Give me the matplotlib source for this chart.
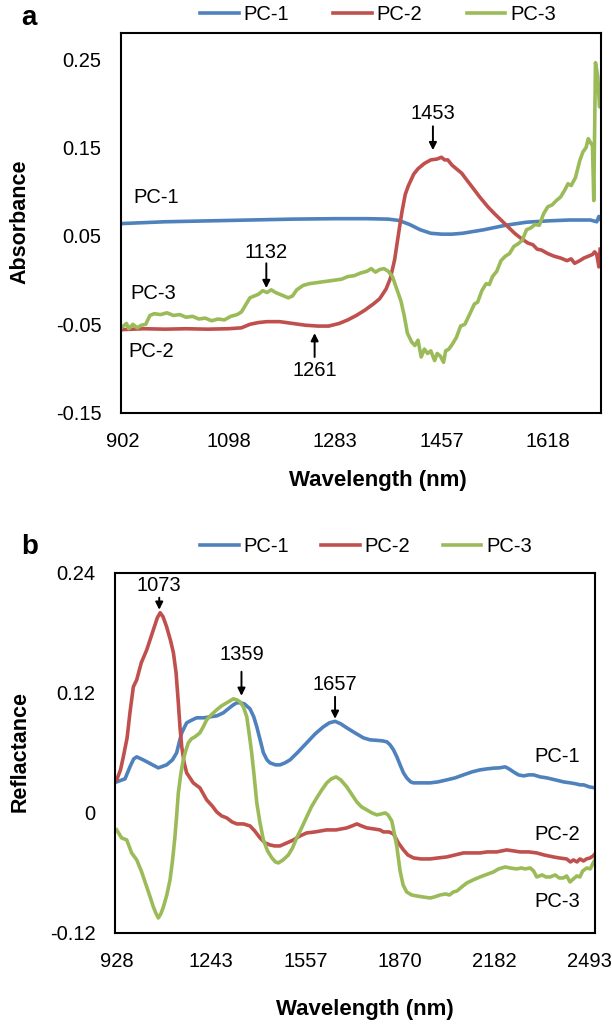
import matplotlib
matplotlib.use("Agg")
import matplotlib.pyplot as plt

plt.rcParams['font.family'] = ['Liberation Sans', 'DejaVu Sans']

# ---------------- Panel a data (index positions of the spectrometer channels) ----------------
a_tick_pos = [0, 50, 100, 150, 200]
a_tick_labels = ['902', '1098', '1283', '1457', '1618']
a_yticks = [0.25, 0.15, 0.05, -0.05, -0.15]

a_pc1_idx = [0, 10, 20, 40, 60, 80, 100, 115, 125, 130, 135, 140, 145, 150, 155, 160, 170, 180,
             190, 200, 210, 220, 223, 224, 225]
a_pc1 = [0.064, 0.065, 0.066, 0.067, 0.068, 0.069, 0.0695, 0.0695, 0.069, 0.0675, 0.063, 0.057,
         0.053, 0.052, 0.052, 0.053, 0.057, 0.062, 0.0655, 0.067, 0.068, 0.068, 0.066, 0.072, 0.068]

a_pc2_idx = [0, 10, 20, 30, 40, 50, 56, 60, 64, 68, 74, 80, 86, 92, 97, 102, 106, 110, 114, 118,
             121, 124, 126, 128, 130, 131.5, 133, 134.5, 137, 139, 142, 145, 148, 150, 151.5, 153,
             155, 157, 159.5, 162, 165.5, 168, 171.8, 175, 178, 181, 184.4, 187, 190.6, 193, 195,
             197, 200, 203, 206, 209, 211, 212.6, 215, 217, 219, 221, 222, 223, 224, 224.6]
a_pc2 = [-0.056, -0.055, -0.0555, -0.055, -0.0555, -0.055, -0.054, -0.050, -0.048, -0.047, -0.047,
         -0.049, -0.051, -0.052, -0.052, -0.049, -0.045, -0.040, -0.034, -0.027, -0.021, -0.010,
         0.002, 0.023, 0.055, 0.078, 0.097, 0.107, 0.120, 0.126, 0.132, 0.136, 0.137, 0.139, 0.136,
         0.136, 0.130, 0.126, 0.121, 0.113, 0.102, 0.094, 0.083, 0.075, 0.068, 0.061, 0.053, 0.048,
         0.042, 0.040, 0.035, 0.034, 0.030, 0.027, 0.025, 0.022, 0.024, 0.019, 0.022, 0.025, 0.027,
         0.029, 0.032, 0.029, 0.015, 0.035]

a_pc3_idx = [0, 2, 3, 5, 7, 9, 11, 13, 15, 18, 21, 24, 27, 30, 33, 36, 39, 42, 45, 48, 51, 54, 56,
             58, 60, 62, 64, 66, 68, 70, 72, 75, 78, 80, 82, 85, 88, 91, 94, 97, 100, 103, 106, 109,
             112, 115, 117, 119, 121, 123, 125, 127, 129, 131, 132.5, 134, 136, 137.5, 139, 140.5,
             142, 143.5, 145, 146.8, 148, 149.5, 151, 152, 153.5, 155, 157, 159, 161, 163, 165.5,
             167, 169, 171, 172.5, 174, 176, 178, 180, 182, 184, 186, 188, 190, 192, 194, 196, 198,
             200, 202, 204, 206, 208, 209.5, 211, 213, 215, 216.5, 218, 219, 220, 221, 221.6, 222.4,
             223.5, 224.3, 225]
a_pc3 = [-0.053, -0.049, -0.055, -0.050, -0.054, -0.051, -0.050, -0.040, -0.038, -0.039, -0.037,
         -0.040, -0.039, -0.042, -0.041, -0.044, -0.043, -0.046, -0.044, -0.045, -0.041, -0.039,
         -0.036, -0.028, -0.020, -0.018, -0.016, -0.012, -0.014, -0.011, -0.014, -0.017, -0.020,
         -0.018, -0.011, -0.006, -0.004, -0.003, -0.002, -0.001, 0.000, 0.001, 0.004, 0.005, 0.008,
         0.010, 0.013, 0.009, 0.012, 0.013, 0.010, 0.004, -0.010, -0.024, -0.040, -0.060, -0.070,
         -0.074, -0.068, -0.087, -0.078, -0.083, -0.080, -0.091, -0.083, -0.086, -0.093, -0.080,
         -0.078, -0.073, -0.065, -0.052, -0.050, -0.040, -0.027, -0.025, -0.012, -0.004, -0.005,
         0.004, 0.010, 0.022, 0.027, 0.030, 0.038, 0.041, 0.045, 0.057, 0.059, 0.063, 0.062, 0.075,
         0.083, 0.085, 0.090, 0.094, 0.102, 0.109, 0.107, 0.116, 0.135, 0.145, 0.150, 0.160, 0.156,
         0.152, 0.090, 0.246, 0.230, 0.196, 0.198]

# ---------------- Panel b data ----------------
b_tick_pos = [0, 50, 100, 150, 200, 250]
b_tick_labels = ['928', '1243', '1557', '1870', '2182', '2493']
b_yticks = [0.24, 0.12, 0.0, -0.12]
b_ytick_labels = ['0.24', '0.12', '0', '-0.12']

b_pc1_idx = [0, 4.4, 7, 9, 10.6, 14, 18, 22, 26.4, 29.5, 31.7, 33, 34.4, 37, 40, 42.3, 46, 49.4, 53,
             56.4, 59, 61.7, 63.5, 65.2, 67.5, 70.5, 72.5, 74.1, 76, 77.6, 79.5, 81.1, 84, 86.4, 89,
             91.7, 96, 100.5, 105, 109.3, 112.5, 115.5, 118.5, 121.7, 126, 130.5, 134, 137.6, 140.5,
             142.9, 144.6, 146.4, 148.2, 149.9, 151.7, 153.4, 155.5, 157, 161, 165.8, 170, 174.6,
             179, 183.4, 188, 192.2, 196, 199.3, 202.5, 205.5, 207.5, 209.9, 212.5, 215.2, 218,
             220.5, 224, 227.5, 232, 236.3, 240, 243, 245.1, 247, 250, 253]
b_pc1 = [0.031, 0.034, 0.046, 0.054, 0.056, 0.053, 0.049, 0.045, 0.048, 0.053, 0.060, 0.070, 0.080,
         0.090, 0.093, 0.095, 0.095, 0.096, 0.097, 0.100, 0.104, 0.108, 0.110, 0.110, 0.109, 0.104,
         0.096, 0.086, 0.072, 0.060, 0.053, 0.050, 0.048, 0.048, 0.050, 0.053, 0.061, 0.070, 0.079,
         0.086, 0.090, 0.0915, 0.089, 0.085, 0.080, 0.075, 0.073, 0.0725, 0.072, 0.071, 0.068,
         0.063, 0.056, 0.048, 0.040, 0.035, 0.031, 0.030, 0.030, 0.030, 0.031, 0.033, 0.035, 0.038,
         0.041, 0.043, 0.044, 0.0447, 0.045, 0.046, 0.044, 0.041, 0.038, 0.037, 0.038, 0.038,
         0.036, 0.035, 0.033, 0.031, 0.030, 0.029, 0.028, 0.028, 0.026, 0.025]

b_pc2_idx = [0, 2, 3.5, 5.5, 7, 8.8, 10.6, 13, 15.9, 19.4, 21.5, 23, 24.5, 26.4, 28.5, 30, 31.4,
             32.6, 33.5, 34.4, 35.7, 37, 40.5, 44, 47.6, 50.5, 52.9, 55.5, 58.2, 61, 63.5, 67, 70.5,
             73, 75.8, 78.5, 81.1, 83.5, 86.4, 90, 93.5, 97, 100.5, 105, 111, 116, 121.7, 124.5, 127,
             129.5, 132.3, 136, 139.3, 141, 144, 146.4, 149, 151.7, 154, 157, 161, 165.8, 170, 174.6,
             179, 183.4, 188, 192.2, 196, 201, 206.3, 210, 213.4, 218, 222.2, 226, 231, 234, 238,
             240, 241.6, 243.5, 245, 246.9, 248.5, 250.4, 252, 253]
b_pc2 = [0.033, 0.043, 0.056, 0.075, 0.100, 0.126, 0.133, 0.150, 0.163, 0.183, 0.195, 0.200, 0.196,
         0.186, 0.172, 0.160, 0.140, 0.110, 0.085, 0.066, 0.050, 0.040, 0.030, 0.025, 0.013, 0.007,
         0.001, -0.003, -0.005, -0.009, -0.011, -0.011, -0.013, -0.018, -0.025, -0.030, -0.032,
         -0.033, -0.033, -0.030, -0.027, -0.023, -0.020, -0.019, -0.017, -0.017, -0.015, -0.013,
         -0.011, -0.013, -0.015, -0.016, -0.017, -0.019, -0.019, -0.021, -0.030, -0.037, -0.042,
         -0.045, -0.046, -0.046, -0.045, -0.044, -0.042, -0.040, -0.040, -0.040, -0.039, -0.039,
         -0.037, -0.038, -0.039, -0.039, -0.040, -0.042, -0.044, -0.045, -0.046, -0.049, -0.047,
         -0.049, -0.046, -0.048, -0.046, -0.045, -0.043, -0.041]

b_pc3_idx = [0, 2.6, 5.3, 6.5, 7.9, 10.6, 13, 15.9, 17.5, 19.4, 20.7, 22, 23.3, 24.7, 26.5, 28.2,
             29.5, 30.8, 31.7, 32.6, 34, 35.2, 36.5, 37.9, 39.5, 41.4, 44, 45.5, 47.6, 50, 52.9, 55.5,
             58.2, 60, 61.7, 63.5, 65.2, 67, 68.8, 70, 71.4, 72.8, 74.1, 75.8, 77.6, 79.8, 82.1, 84,
             85.5, 88, 90.8, 93, 95.2, 97.8, 100.5, 103, 105.8, 108.5, 111.1, 113.5, 116, 118.5,
             121.7, 124.5, 127, 129.5, 132.3, 135, 137.6, 140, 142, 143.5, 145.5, 146.8, 148.2,
             149.9, 151.5, 153.4, 156, 158.7, 162, 165.8, 168, 171.1, 174, 176, 178.1, 180, 182.5,
             185.2, 188.5, 192.2, 195, 199.3, 202, 205.5, 208, 211.6, 214, 216, 218.7, 220.5, 222.2,
             225, 227, 229.3, 232, 234, 236.3, 238, 239.8, 241.5, 243.4, 245, 246.5, 248.7, 250.5,
             252, 253]
b_pc3 = [-0.017, -0.025, -0.027, -0.033, -0.040, -0.047, -0.058, -0.074, -0.083, -0.094, -0.100,
         -0.105, -0.101, -0.094, -0.082, -0.067, -0.048, -0.024, -0.003, 0.020, 0.040, 0.053, 0.062,
         0.070, 0.074, 0.076, 0.080, 0.085, 0.093, 0.098, 0.103, 0.107, 0.110, 0.112, 0.114, 0.113,
         0.111, 0.106, 0.096, 0.080, 0.060, 0.035, 0.010, -0.010, -0.027, -0.038, -0.045, -0.049,
         -0.050, -0.047, -0.042, -0.035, -0.025, -0.015, -0.004, 0.006, 0.015, 0.023, 0.030, 0.034,
         0.036, 0.033, 0.026, 0.018, 0.011, 0.006, 0.003, 0.000, -0.002, -0.001, 0.000, -0.002,
         -0.008, -0.020, -0.034, -0.058, -0.072, -0.079, -0.082, -0.083, -0.084, -0.085, -0.084,
         -0.082, -0.081, -0.082, -0.079, -0.078, -0.074, -0.070, -0.067, -0.064, -0.062, -0.059,
         -0.056, -0.054, -0.055, -0.056, -0.055, -0.056, -0.055, -0.058, -0.064, -0.062, -0.064,
         -0.064, -0.062, -0.065, -0.065, -0.063, -0.069, -0.066, -0.063, -0.064, -0.058, -0.055,
         -0.056, -0.050, -0.047]

series_names = ['PC-1', 'PC-2', 'PC-3']
colors = ['#4F81BD', '#C0504D', '#9BBB59']

W, H = 612, 1027
fig = plt.figure(figsize=(W / 100, H / 100), dpi=100)

def px_axes(x0, y0, x1, y1):
    return fig.add_axes([x0 / W, 1 - y1 / H, (x1 - x0) / W, (y1 - y0) / H])

FS = 14.5
LW = 2.6

def style(ax):
    for s in ax.spines.values():
        s.set_linewidth(1.5)
        s.set_color('black')
    ax.tick_params(length=0, labelsize=FS, pad=14)

def arrow(ax, label, x, y_text, y_tail, y_head):
    ax.annotate('', xy=(x, y_head), xytext=(x, y_tail),
                arrowprops=dict(arrowstyle='-|>', color='black', lw=1.4, mutation_scale=11,
                                shrinkA=0, shrinkB=0))
    ax.text(x, y_text, label, ha='center', va='center', fontsize=FS)

# ---------------- Panel a ----------------
ax1 = px_axes(121, 33.5, 601, 412.7)
la = []
for idx, vals, c, n in zip([a_pc1_idx, a_pc2_idx, a_pc3_idx], [a_pc1, a_pc2, a_pc3], colors, series_names):
    l, = ax1.plot(idx, vals, color=c, lw=LW, label=n, solid_joinstyle='round')
    la.append(l)
ax1.set_xlim(-0.6, 225)
ax1.set_ylim(-0.15, 0.279)
ax1.set_xticks(a_tick_pos)
ax1.set_xticklabels(a_tick_labels)
ax1.set_yticks(a_yticks)
ax1.set_yticklabels(['%.2f' % v for v in a_yticks])
style(ax1)
ax1.text(5, 0.093, 'PC-1', fontsize=FS, ha='left', va='center')
ax1.text(4, -0.015, 'PC-3', fontsize=FS, ha='left', va='center')
ax1.text(3, -0.081, 'PC-2', fontsize=FS, ha='left', va='center')
arrow(ax1, '1132', 67.7, 0.031, 0.019, -0.009)
arrow(ax1, '1261', 90.4, -0.102, -0.087, -0.060)
arrow(ax1, '1453', 146, 0.189, 0.174, 0.147)

fig.legend(handles=la, loc='center', bbox_to_anchor=(378 / W, 1 - 15 / H), ncol=3, frameon=False,
           fontsize=FS, handlelength=1.9, handletextpad=0.25, columnspacing=2.2,
           borderaxespad=0, borderpad=0)
fig.text(29 / W, 1 - 18 / H, 'a', fontsize=20, fontweight='bold', ha='center', va='center')
fig.text(20 / W, 1 - 222 / H, 'Absorbance', fontsize=15.5, fontweight='bold', rotation=90,
         ha='center', va='center')
fig.text(378 / W, 1 - 480 / H, 'Wavelength (nm)', fontsize=16, fontweight='bold',
         ha='center', va='center')

# ---------------- Panel b ----------------
ax2 = px_axes(115, 572.7, 595, 933)
lb = []
for idx, vals, c, n in zip([b_pc1_idx, b_pc2_idx, b_pc3_idx], [b_pc1, b_pc2, b_pc3], colors, series_names):
    l, = ax2.plot(idx, vals, color=c, lw=LW, label=n, solid_joinstyle='round')
    lb.append(l)
ax2.set_xlim(-0.9, 253)
ax2.set_ylim(-0.12, 0.24)
ax2.set_xticks(b_tick_pos)
ax2.set_xticklabels(b_tick_labels)
ax2.set_yticks(b_yticks)
ax2.set_yticklabels(b_ytick_labels)
style(ax2)
ax2.text(233, 0.056, 'PC-1', fontsize=FS, ha='center', va='center')
ax2.text(233, -0.022, 'PC-2', fontsize=FS, ha='center', va='center')
ax2.text(233, -0.089, 'PC-3', fontsize=FS, ha='center', va='center')
arrow(ax2, '1073', 22.5, 0.227, 0.215, 0.203)
arrow(ax2, '1359', 66, 0.158, 0.141, 0.117)
arrow(ax2, '1657', 115.5, 0.128, 0.116, 0.094)

fig.legend(handles=lb, loc='center', bbox_to_anchor=(366 / W, 1 - 547 / H), ncol=3, frameon=False,
           fontsize=FS, handlelength=1.9, handletextpad=0.25, columnspacing=1.6,
           borderaxespad=0, borderpad=0)
fig.text(30 / W, 1 - 547 / H, 'b', fontsize=20, fontweight='bold', ha='center', va='center')
fig.text(20 / W, 1 - 752 / H, 'Reflactance', fontsize=15.5, fontweight='bold', rotation=90,
         ha='center', va='center')
fig.text(365 / W, 1 - 1010 / H, 'Wavelength (nm)', fontsize=16, fontweight='bold',
         ha='center', va='center')

fig.savefig('out.png', dpi=100)
